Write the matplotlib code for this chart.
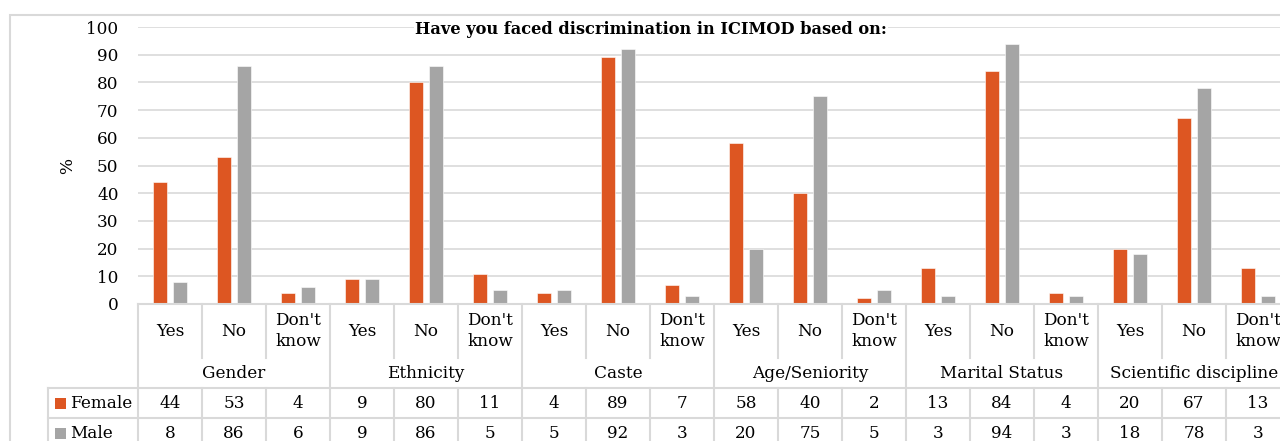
import matplotlib
matplotlib.use("Agg")
import matplotlib.pyplot as plt
from matplotlib.transforms import blended_transform_factory
from matplotlib.patches import Rectangle

groups = ["Gender", "Ethnicity", "Caste", "Age/Seniority", "Marital Status", "Scientific discipline"]
answers = ["Yes", "No", "Don't\nknow"]
female = [44, 53, 4, 9, 80, 11, 4, 89, 7, 58, 40, 2, 13, 84, 4, 20, 67, 13]
male = [8, 86, 6, 9, 86, 5, 5, 92, 3, 20, 75, 5, 3, 94, 3, 18, 78, 3]

ORANGE = "#DD5622"
GRAY = "#A5A5A5"
LINE = "#D9D9D9"
FONT = "DejaVu Serif"
FS = 12.2

W, H = 1280, 441
fig = plt.figure(figsize=(W / 100, H / 100), dpi=100)
plt.rcParams["font.family"] = FONT

# plot area in pixels: left 138, top 27 (=100), bottom 304 (=0), 64 px per answer column
ax = fig.add_axes([138 / W, 1 - 304 / H, 18 * 64 / W, 277 / H])
n = len(female)
xs = list(range(n))
ax.bar([x - 0.15 for x in xs], female, width=0.22, color=ORANGE, edgecolor="white", linewidth=0.4)
ax.bar([x + 0.15 for x in xs], male, width=0.22, color=GRAY, edgecolor="white", linewidth=0.4)
ax.set_xlim(-0.5, n - 0.5)
ax.set_ylim(0, 100)
ax.set_yticks(range(0, 101, 10))
ax.set_xticks([])
ax.tick_params(axis="y", length=0, pad=14, labelsize=FS)
ax.grid(axis="y", color=LINE, linewidth=1.2)
ax.set_axisbelow(True)
for s in ["left", "right", "top"]:
    ax.spines[s].set_visible(False)
ax.spines["bottom"].set_color(LINE)
ax.spines["bottom"].set_linewidth(1.5)
ax.set_ylabel("%", fontsize=FS)
ax.yaxis.set_label_coords(-62 / (18 * 64), 0.5)

fy = lambda p: 1 - p / H
fx = lambda p: p / W

fig.text(fx(651), fy(30), "Have you faced discrimination in ICIMOD based on:",
         ha="center", va="center", fontsize=11.7, fontweight="bold",
         bbox=dict(facecolor="white", edgecolor="none", pad=1))

# data table below the plot: x in data units, y in figure fraction
tr = blended_transform_factory(ax.transData, fig.transFigure)
kw = dict(color=LINE, linewidth=1.5, clip_on=False)

for i in range(n + 1):
    b = i - 0.5
    if i % 3 == 0:
        ax.plot([b, b], [fy(304), fy(460)], transform=tr, **kw)
    else:
        ax.plot([b, b], [fy(304), fy(358)], transform=tr, **kw)
        ax.plot([b, b], [fy(388), fy(460)], transform=tr, **kw)
for p in [388, 418]:
    ax.plot([fx(48), 1.1], [fy(p), fy(p)], transform=fig.transFigure, **kw)
ax.plot([fx(48), fx(48)], [fy(388), fy(460)], transform=fig.transFigure, **kw)

for i in range(n):
    ax.text(i, fy(331), answers[i % 3], transform=tr, ha="center", va="center",
            fontsize=FS, linespacing=1.25, clip_on=False)
    ax.text(i, fy(403), str(female[i]), transform=tr, ha="center", va="center", fontsize=FS, clip_on=False)
    ax.text(i, fy(433), str(male[i]), transform=tr, ha="center", va="center", fontsize=FS, clip_on=False)
for g, name in enumerate(groups):
    ax.text(g * 3 + 1, fy(373), name, transform=tr, ha="center", va="center", fontsize=FS, clip_on=False)

for label, color, p in [("Female", ORANGE, 403), ("Male", GRAY, 433)]:
    fig.patches.append(Rectangle((fx(55), fy(p + 5.5)), 11 / W, 11 / H, transform=fig.transFigure,
                                 facecolor=color, edgecolor="none"))
    fig.text(fx(70), fy(p), label, ha="left", va="center", fontsize=FS)

# outer chart frame
fig.patches.append(Rectangle((fx(10), -0.1), 1.2, fy(15) + 0.1, transform=fig.transFigure,
                             facecolor="none", edgecolor=LINE, linewidth=1.5))

fig.savefig("out.png", dpi=100)
